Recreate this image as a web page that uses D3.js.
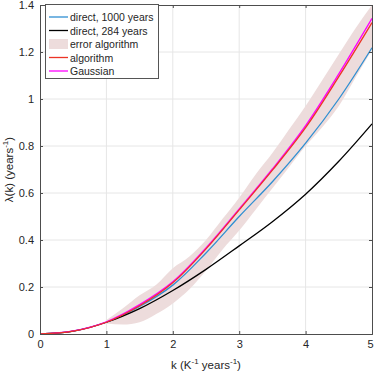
<!DOCTYPE html>
<html>
<head>
<meta charset="utf-8">
<script src="https://cdn.jsdelivr.net/npm/d3@7"></script>
<style>
  body { margin: 0; background: #fff; }
  svg { font-family: "Liberation Sans", Arial, sans-serif; }
</style>
</head>
<body>
<svg id="chart" width="374" height="374"></svg>
<script>
var kVals = [0, 0.5, 1, 1.5, 2, 2.5, 3, 3.5, 4, 4.5, 5]
var direct1000 = [0, 0.012, 0.05, 0.117, 0.208, 0.345, 0.5, 0.648, 0.812, 1.0, 1.218]
var direct284 = [0, 0.012, 0.05, 0.108, 0.185, 0.275, 0.375, 0.478, 0.595, 0.735, 0.894]
var algorithm = [0, 0.012, 0.05, 0.12, 0.218, 0.362, 0.528, 0.697, 0.878, 1.095, 1.325]
var gaussian = [0, 0.013, 0.052, 0.125, 0.222, 0.366, 0.532, 0.702, 0.887, 1.107, 1.343]

var bandK = [1, 1.25, 1.5, 1.75, 2, 2.25, 2.5, 2.75, 3, 3.25, 3.5, 3.75, 4, 4.25, 4.5, 4.75, 5]
var bandLow = [0.045, 0.04, 0.05, 0.085, 0.13, 0.19, 0.27, 0.36, 0.44, 0.53, 0.62, 0.71, 0.8, 0.88, 0.97, 1.09, 1.21]
var bandHigh = [0.06, 0.11, 0.165, 0.21, 0.28, 0.33, 0.4, 0.49, 0.58, 0.68, 0.77, 0.87, 0.97, 1.08, 1.19, 1.3, 1.4]

var xTicks = [0, 1, 2, 3, 4, 5]
var yTicks = [0, 0.2, 0.4, 0.6, 0.8, 1, 1.2, 1.4]
var yTickLabels = ['0', '0.2', '0.4', '0.6', '0.8', '1', '1.2', '1.4']

var legendItems = [
  { label: 'direct, 1000 years', color: '#2f8fd2', type: 'line' },
  { label: 'direct, 284 years', color: '#000000', type: 'line' },
  { label: 'error algorithm', color: '#eddcdc', type: 'patch' },
  { label: 'algorithm', color: '#ec3426', type: 'line' },
  { label: 'Gaussian', color: '#ff00ff', type: 'line' }
]

var plotL = 40, plotR = 372, plotT = 5, plotB = 334
var svg = d3.select('#chart')

var x = d3.scaleLinear().domain([0, 5]).range([plotL, plotR])
var y = d3.scaleLinear().domain([0, 1.4]).range([plotB, plotT])

// grid
var grid = svg.append('g')
grid.selectAll('line.gx').data(xTicks.slice(1, -1)).enter().append('line')
  .attr('x1', d => x(d)).attr('x2', d => x(d))
  .attr('y1', plotT).attr('y2', plotB)
  .style('stroke', '#e6e6e6').style('stroke-width', 1)
grid.selectAll('line.gy').data(yTicks.slice(1, -1)).enter().append('line')
  .attr('x1', plotL).attr('x2', plotR)
  .attr('y1', d => y(d)).attr('y2', d => y(d))
  .style('stroke', '#e6e6e6').style('stroke-width', 1)

// error band
var band = bandK.map((k, i) => ({ k: k, lo: bandLow[i], hi: bandHigh[i] }))
svg.append('path')
  .datum(band)
  .attr('d', d3.area().x(d => x(d.k)).y0(d => y(d.lo)).y1(d => y(d.hi)).curve(d3.curveMonotoneX))
  .style('fill', legendItems[2].color)

function drawLine(vals, color) {
  var pts = kVals.map((k, i) => [k, vals[i]])
  svg.append('path')
    .datum(pts)
    .attr('d', d3.line().x(d => x(d[0])).y(d => y(d[1])).curve(d3.curveCatmullRom))
    .style('fill', 'none')
    .style('stroke', color)
    .style('stroke-width', 1.3)
}
drawLine(direct1000, legendItems[0].color)
drawLine(direct284, legendItems[1].color)
drawLine(gaussian, legendItems[4].color)
drawLine(algorithm, legendItems[3].color)

// axes
var axisColor = '#4d4d4d'
var xAxis = d3.axisBottom(x).tickValues(xTicks).tickSize(-3).tickPadding(6).tickFormat(d3.format('d'))
var yAxis = d3.axisLeft(y).tickValues(yTicks).tickSize(-3).tickPadding(6).tickFormat((d, i) => yTickLabels[i])
var xg = svg.append('g').attr('transform', 'translate(0,' + plotB + ')').call(xAxis)
var yg = svg.append('g').attr('transform', 'translate(' + plotL + ',0)').call(yAxis)
var xTop = svg.append('g').attr('transform', 'translate(0,' + plotT + ')')
  .call(d3.axisTop(x).tickValues(xTicks).tickSize(-3).tickFormat(''))
var yRight = svg.append('g').attr('transform', 'translate(' + plotR + ',0)')
  .call(d3.axisRight(y).tickValues(yTicks).tickSize(-3).tickFormat(''))
;[xg, yg, xTop, yRight].forEach(g => {
  g.select('.domain').style('stroke', axisColor).style('stroke-width', 1)
  g.selectAll('.tick line').style('stroke', axisColor)
  g.selectAll('.tick text').style('fill', '#262626').style('font-size', '11px')
    .style('font-family', '"Liberation Sans", Arial, sans-serif')
})
xg.selectAll('.tick text').filter(d => d === 5).attr('dx', -2)

// axis labels
var xl = svg.append('text')
  .attr('x', (plotL + plotR) / 2).attr('y', 369)
  .attr('text-anchor', 'middle')
  .style('font-size', '11.5px').style('fill', '#262626')
xl.append('tspan').text('k (K')
xl.append('tspan').text('-1').attr('dy', -5).style('font-size', '8px')
xl.append('tspan').text(' years').attr('dy', 5)
xl.append('tspan').text('-1').attr('dy', -5).style('font-size', '8px')
xl.append('tspan').text(')').attr('dy', 5)

var yl = svg.append('text')
  .attr('transform', 'translate(13,' + (plotT + plotB) / 2 + ') rotate(-90)')
  .attr('text-anchor', 'middle')
  .style('font-size', '11.5px').style('fill', '#262626')
yl.append('tspan').text('λ(k) (years')
yl.append('tspan').text('-1').attr('dy', -5).style('font-size', '8px')
yl.append('tspan').text(')').attr('dy', 5)

// legend
var lg = svg.append('g')
lg.append('rect')
  .attr('x', 45.5).attr('y', 4.5).attr('width', 113).attr('height', 74)
  .style('fill', '#fff').style('stroke', '#555').style('stroke-width', 1)
legendItems.forEach((item, i) => {
  var cy = 17 + i * 13.5
  if (item.type === 'line') {
    lg.append('line').attr('x1', 49).attr('x2', 68).attr('y1', cy).attr('y2', cy)
      .style('stroke', item.color).style('stroke-width', 1.3)
  } else {
    lg.append('rect').attr('x', 49).attr('y', cy - 5).attr('width', 19).attr('height', 10)
      .style('fill', item.color)
  }
  lg.append('text').attr('x', 70).attr('y', cy + 4)
    .style('font-size', '10.5px').style('fill', '#262626')
    .text(item.label)
})
</script>
</body>
</html>
